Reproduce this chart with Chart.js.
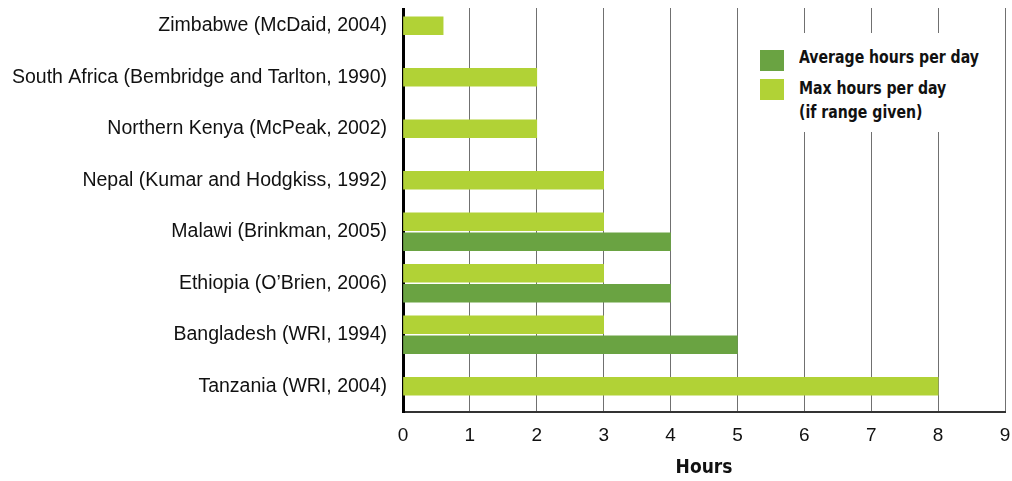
<!DOCTYPE html>
<html>
<head>
<meta charset="utf-8">
<script src="https://cdn.jsdelivr.net/npm/chart.js@4"></script>
<style>
  body { margin: 0; background: #fff; }
  #wrap { position: relative; width: 1012px; height: 481px; overflow: hidden; }
  #topmask { position: absolute; left: 398px; top: 0; width: 614px; height: 8px; background: #fff; }
  #legend { position: absolute; left: 745px; top: 33px; width: 255px; height: 99px; background: #fff;
    font-family: "DejaVu Sans", sans-serif; font-stretch: condensed; font-weight: bold; font-size: 18px; color: #111; }
  #legend .sw { position: absolute; left: 15px; width: 24px; height: 21px; }
  #legend .tx { position: absolute; left: 54px; line-height: 24px; white-space: nowrap;
    transform: scaleX(0.87); transform-origin: left top; }
</style>
</head>
<body>
<div id="wrap">
  <canvas id="myChart" width="1012" height="481"></canvas>
  <div id="topmask"></div>
  <div id="legend">
    <div class="sw" style="top:17px;background:#6aa342"></div>
    <div class="tx" style="top:12px">Average hours per day</div>
    <div class="sw" style="top:46px;background:#b1d236"></div>
    <div class="tx" style="top:43px">Max hours per day<br>(if range given)</div>
  </div>
</div>
<script>
const categories = [
  'Zimbabwe (McDaid, 2004)',
  'South Africa (Bembridge and Tarlton, 1990)',
  'Northern Kenya (McPeak, 2002)',
  'Nepal (Kumar and Hodgkiss, 1992)',
  'Malawi (Brinkman, 2005)',
  'Ethiopia (O\u2019Brien, 2006)',
  'Bangladesh (WRI, 1994)',
  'Tanzania (WRI, 2004)'
];
const maxHours = [0.6, 2, 2, 3, 3, 3, 3, 8];
const avgHours = [null, null, null, null, 4, 4, 5, null];
const hourTicks = [0, 1, 2, 3, 4, 5, 6, 7, 8, 9];

const ctx = document.getElementById('myChart');

const chart = new Chart(ctx, {
  type: 'bar',
  data: {
    labels: categories,
    datasets: [{
      label: 'Max hours per day (if range given)',
      data: maxHours,
      backgroundColor: '#b1d236'
    }, {
      label: 'Average hours per day',
      data: avgHours,
      backgroundColor: '#6aa342'
    }]
  },
  options: {
    indexAxis: 'y',
    responsive: false,
    animation: false,
    devicePixelRatio: 1,
    skipNull: true,
    barThickness: 20,
    maxBarThickness: 18,
    layout: { padding: { top: 0, right: 7, bottom: 0, left: 0 } },
    plugins: {
      legend: { display: false },
      tooltip: { enabled: false }
    },
    scales: {
      x: {
        min: hourTicks[0],
        max: hourTicks[hourTicks.length - 1],
        afterBuildTicks: (s) => { s.ticks = hourTicks.map(v => ({ value: v })); },
        afterFit: (s) => { s.height = 69; s.paddingLeft = 0; s.paddingRight = 0; },
        grid: { color: '#707070', lineWidth: 1, drawTicks: false },
        border: { display: true, color: '#333', width: 2 },
        ticks: {
          padding: 12,
          color: '#111',
          font: { family: 'Liberation Sans', size: 19 }
        },
        title: {
          display: true,
          text: 'Hours',
          color: '#111',
          padding: { top: 0, bottom: 2 },
          font: { family: '"DejaVu Sans"', size: 19, weight: 'bold condensed' }
        }
      },
      y: {
        afterFit: (s) => { s.width = 403; s.paddingTop = 0; s.paddingBottom = 0; },
        grid: { display: false, drawTicks: false },
        border: { display: true, color: '#000', width: 3 },
        ticks: {
          padding: 16,
          color: '#111',
          font: { family: 'Liberation Sans', size: 19.5 }
        }
      }
    }
  }
});
</script>
</body>
</html>
